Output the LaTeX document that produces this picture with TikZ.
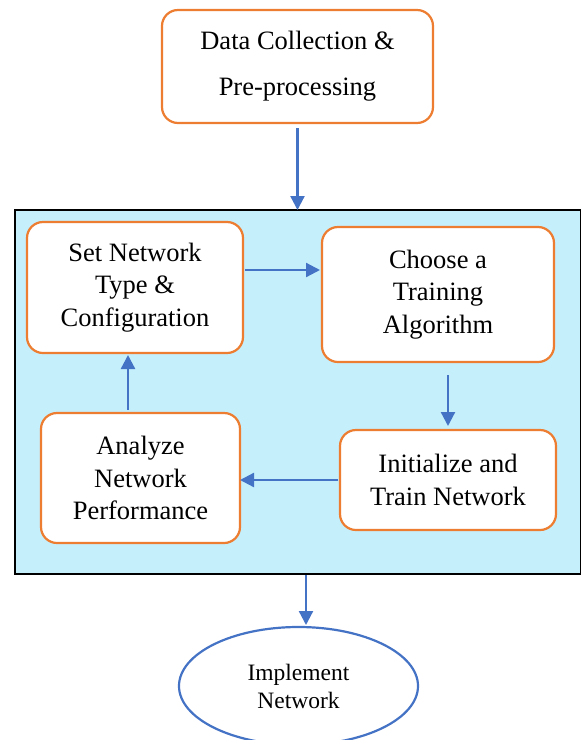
\documentclass[tikz,border=0pt]{standalone}
\usepackage{fontspec}
\setmainfont{Liberation Serif}
\usetikzlibrary{arrows.meta, positioning, shapes.geometric, calc}
\definecolor{boxorange}{RGB}{237,125,49}
\definecolor{arrblue}{RGB}{68,114,196}
\definecolor{panelcyan}{RGB}{198,239,252}
\tikzset{
    box/.style = {draw=boxorange, fill=white, rectangle, rounded corners=16pt, line width=2.2pt, align=center, inner sep=0pt, outer sep=0pt, font=\fontsize{26.5}{32.5}\selectfont},
    panel/.style = {draw=black, fill=panelcyan, rectangle, line width=2pt, inner sep=0pt, outer sep=0pt},
    oval/.style = {draw=arrblue, ellipse, line width=2.2pt, align=center, inner sep=0pt, outer sep=0pt, font=\fontsize{23.5}{28}\selectfont},
    arr/.style = {-{Triangle[length=14pt,width=14pt]}, draw=arrblue, fill=arrblue, line width=2.3pt}
}

\begin{document}
\begin{tikzpicture}[x=1pt,y=-1pt]
    \useasboundingbox (0,0) rectangle (581,740);
    \node (panel) [panel, minimum width=566pt, minimum height=364pt] at (298,392) {};

    \node (data) [box, minimum width=271pt, minimum height=113pt, font=\fontsize{26.5}{46}\selectfont] at (297.5,66.5) {Data Collection \&\\Pre-processing};
    \node (setnet) [box, minimum width=216pt, minimum height=131pt] at (135,287.5) {Set Network\\Type \&\\Configuration};
    \node (choose) [box, minimum width=232pt, minimum height=135pt] at (438,294.5) {Choose a\\Training\\Algorithm};
    \node (analyze) [box, minimum width=199pt, minimum height=130pt] at (140.5,478) {Analyze\\Network\\Performance};
    \node (init) [box, minimum width=216pt, minimum height=100pt] at (448,480) {Initialize and\\Train Network};
    \node (impl) [oval, minimum width=239pt, minimum height=118pt] at (298.5,686) {Implement\\Network};

    \draw[arr, shorten <=5pt] (data) -- (data |- panel.north);
    \draw[arr, shorten <=2pt, shorten >=2pt] ([yshift=17.5pt]setnet.east) -- ([yshift=17.5pt]setnet.east -| choose.west);
    \draw[arr, shorten <=13pt, shorten >=4pt] (init.north |- choose.south) -- (init.north);
    \draw[arr, shorten <=2pt] (init.west) -- (analyze.east |- init.west);
    \draw[arr, shorten <=3pt, shorten >=2pt] ([xshift=-12.5pt]analyze.north) -- ([xshift=-12.5pt]analyze.north |- setnet.south);
    \draw[arr, shorten <=1pt, shorten >=2pt] ([xshift=7.5pt]impl.north |- panel.south) -- ([xshift=7.5pt]impl.north);
\end{tikzpicture}
\end{document}
